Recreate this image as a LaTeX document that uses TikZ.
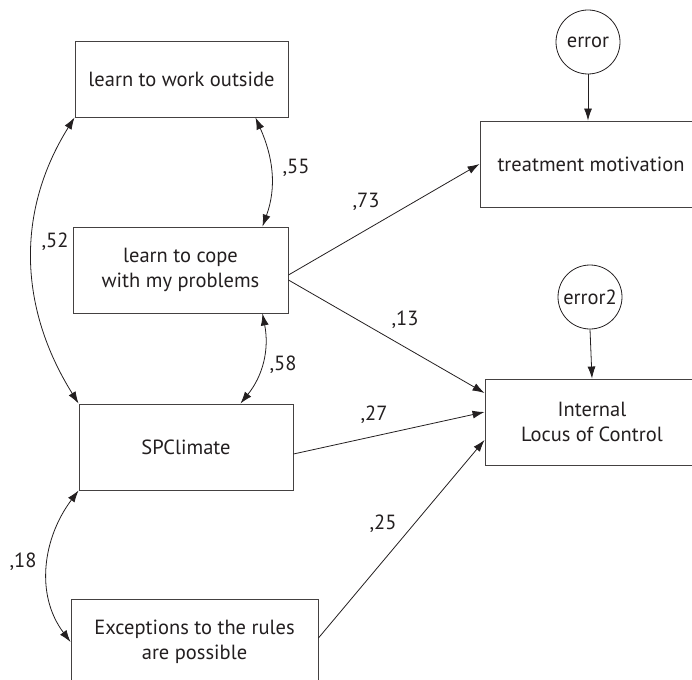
\documentclass[tikz,border=0pt]{standalone}
\usepackage{fontspec}
\setmainfont{PT Sans}
\usetikzlibrary{arrows.meta}
\definecolor{ink}{HTML}{231F20}
\tikzset{
  var/.style={draw=ink!85, line width=0.9pt, rectangle, align=center,
    text=ink, font=\fontsize{20.5}{25}\selectfont, inner sep=0pt},
  errnode/.style={draw=ink, line width=0.8pt, circle, minimum size=64pt,
    inner sep=0pt, text=ink, font=\fontsize{20.5}{24}\selectfont},
  path/.style={draw=ink, line width=0.8pt, -{Latex[length=12pt,width=8pt]}},
  cov/.style={draw=ink, line width=0.8pt,
    {Latex[length=12pt,width=8pt]}-{Latex[length=12pt,width=8pt]}},
  coef/.style={text=ink, font=\fontsize{20.5}{24}\selectfont, inner sep=0pt}
}
\begin{document}
\begin{tikzpicture}[x=1pt, y=-1pt]
  \useasboundingbox (0,0) rectangle (692,679);
  \clip (0,0) rectangle (692,679);

  % observed variables
  \node[var, minimum width=213pt, minimum height=76pt] (work) at (181.5,79) {learn to work outside};
  \node[var, minimum width=215pt, minimum height=86pt] (cope) at (180.5,270) {learn to cope\\with my problems};
  \node[var, minimum width=214pt, minimum height=86pt] (clim) at (186,447) {SPClimate};
  \node[var, minimum width=247pt, minimum height=86pt] (exc) at (194.5,642) {Exceptions to the rules\\are possible};
  \node[var, minimum width=222pt, minimum height=86pt] (treat) at (591,164) {treatment motivation};
  \node[var, minimum width=214pt, minimum height=86pt] (ilc) at (592,422) {Internal\\Locus of Control};

  % residual terms
  \node[errnode] (err1) at (588,42) {error};
  \node[errnode] (err2) at (590,297) {error2};

  \draw[path] (err1.south) -- (err1.south |- treat.north);
  \draw[path] (err2.south) -- (ilc.north);

  % regression paths
  \draw[path] ([yshift=-5pt]cope.east) -- (treat.west);
  \draw[path] ([yshift=-10pt]cope.east) -- ([yshift=29pt]ilc.west);
  \draw[path] ([yshift=-7pt]clim.east) -- ([yshift=10pt]ilc.west);
  \draw[path] ([yshift=4pt]exc.east) -- ([yshift=-18pt]ilc.west);

  % covariances
  \draw[cov] (work.south west) to[out=238, in=122] (clim.north west);
  \draw[cov] ([xshift=-33pt]work.south east) to[out=-66, in=70] ([xshift=-26pt]cope.north east);
  \draw[cov] ([xshift=-26pt]cope.south east) to[out=-79, in=51] ([xshift=-53pt]clim.north east);
  \draw[cov] (clim.south west) to[out=233, in=127] (exc.west);

  % coefficients
  \node[coef] (l55) at (296,168) {,55};
  \node[coef] (l73) at (366,202) {,73};
  \node[coef] (l52) at (55,242) {,52};
  \node[coef] (l13) at (405,320) {,13};
  \node[coef] (l58) at (283,365) {,58};
  \node[coef] (l27) at (374,415) {,27};
  \node[coef] (l25) at (383,524) {,25};
  \node[coef] (l18) at (23,562) {,18};
\end{tikzpicture}
\end{document}
